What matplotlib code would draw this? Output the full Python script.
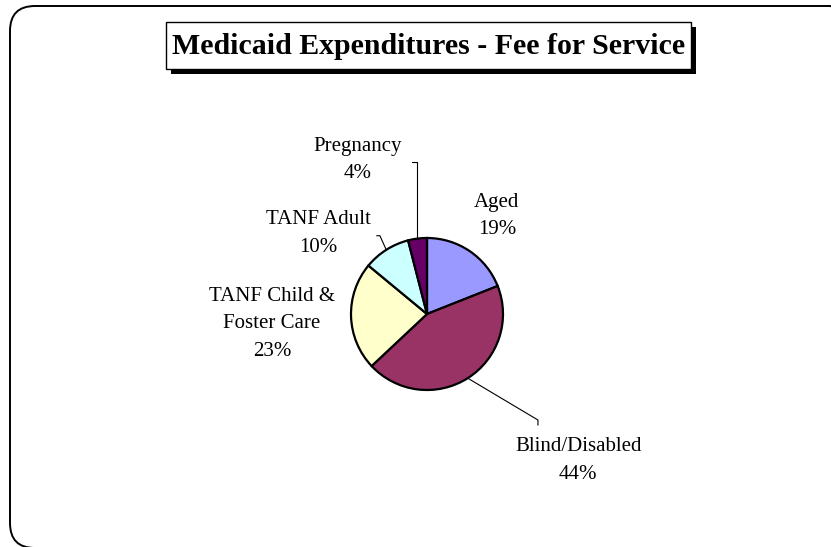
import numpy as np
import matplotlib.pyplot as plt
from matplotlib.patches import FancyBboxPatch, Rectangle

plt.rcParams['font.family'] = ['Liberation Serif', 'DejaVu Serif']

title = "Medicaid Expenditures - Fee for Service"
categories = ["Aged", "Blind/Disabled", "TANF Child &\nFoster Care", "TANF Adult", "Pregnancy"]
shares = [19, 44, 23, 10, 4]
colors = ["#9999FF", "#993366", "#FFFFCC", "#CCFFFF", "#660066"]

# label centres in pie-radius units (layout)
label_pos = [(0.92, 1.29), (1.99, -1.93), (-2.04, -0.13), (-1.43, 1.06), (-0.91, 2.03)]
# leader lines: elbow and end points (None = no leader)
leaders = [None, [(1.46, -1.395), (1.46, -1.46)], None,
           [(-0.62, 1.03), (-0.66, 1.03)], [(None, 2.0), (-0.197, 2.0)]]

W, H = 831, 547
fig = plt.figure(figsize=(W / 100, H / 100), dpi=100)

# decoration layer in pixel coordinates (y measured from the top)
deco = fig.add_axes([0, 0, 1, 1])
deco.set_xlim(0, W)
deco.set_ylim(0, H)
deco.axis('off')


def top(y, h=0):
    return H - y - h


deco.add_patch(FancyBboxPatch((10, top(6, 542)), 845, 542,
                              boxstyle="round,pad=0,rounding_size=25",
                              fill=False, lw=1.4, ec='black'))
deco.add_patch(Rectangle((171, top(27, 47)), 525, 47, fc='black', ec='none'))
deco.add_patch(Rectangle((166, top(22, 47)), 525, 47, fc='white', ec='black', lw=1.0))
deco.text(428.5, top(46), title, ha='center', va='center', fontsize=21.5, fontweight='bold')

# pie layer: 1 data unit = 76 px, centre at (427, 314)
R = 76.0
cx, cy = 427, H - 314
ax = fig.add_axes([0, 0, 1, 1])
ax.patch.set_alpha(0)
wedges, _ = ax.pie(shares, colors=colors, startangle=90, counterclock=False, radius=1,
                   wedgeprops=dict(edgecolor='black', linewidth=1.6))
ax.set_xlim(-cx / R, (W - cx) / R)
ax.set_ylim(-cy / R, (H - cy) / R)
ax.axis('off')

for w, cat, s, pos, ld in zip(wedges, categories, shares, label_pos, leaders):
    ax.text(pos[0], pos[1], f"{cat}\n{s}%", ha='center', va='center', fontsize=15,
            linespacing=1.6)
    if ld is not None:
        ang = np.deg2rad((w.theta1 + w.theta2) / 2)
        x0, y0 = np.cos(ang), np.sin(ang)
        xs, ys = [x0], [y0]
        for px, py in ld:
            xs.append(x0 if px is None else px)
            ys.append(py)
        ax.plot(xs, ys, color='black', lw=0.8)

fig.savefig('out.png', dpi=100)
